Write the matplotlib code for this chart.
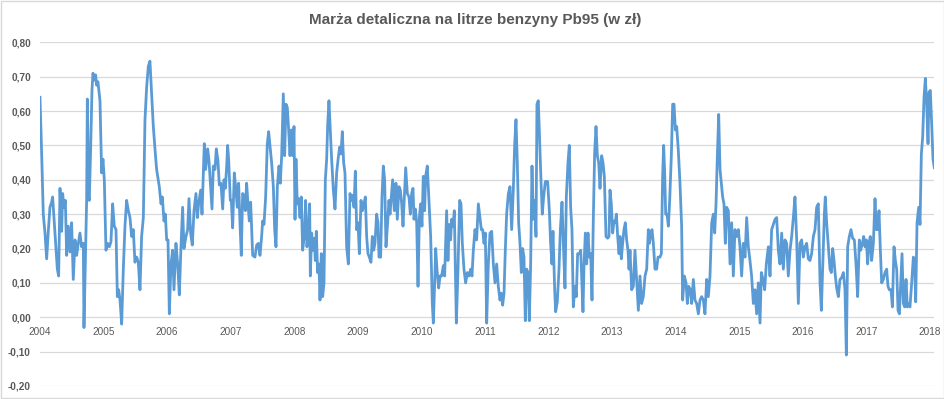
import numpy as np
import matplotlib.pyplot as plt
from matplotlib.patches import Rectangle

plt.rcParams['font.family'] = ['Liberation Sans', 'DejaVu Sans']

# tygodniowe odczyty: lata od poczatku 2004 i marza w zl/l
rok_startu = 2004
lata = [
    0.000, 0.026, 0.052, 0.079, 0.105, 0.131, 0.157, 0.184, 0.199, 0.220,
    0.252, 0.273, 0.294, 0.315, 0.341, 0.357, 0.378, 0.399, 0.420, 0.446,
    0.472, 0.498, 0.524, 0.551, 0.577, 0.603, 0.629, 0.655, 0.682, 0.692,
    0.713, 0.734, 0.745, 0.766, 0.776, 0.797, 0.818, 0.834, 0.855, 0.876,
    0.891, 0.912, 0.944, 0.970, 0.991, 1.012, 1.038, 1.064, 1.091, 1.117,
    1.143, 1.169, 1.196, 1.217, 1.238, 1.259, 1.285, 1.311, 1.337, 1.363,
    1.390, 1.416, 1.442, 1.468, 1.494, 1.521, 1.547, 1.573, 1.599, 1.626,
    1.652, 1.678, 1.704, 1.730,
    1.783, 1.809, 1.835, 1.877, 1.904, 1.925, 1.951, 1.972, 1.993, 2.014,
    2.035, 2.061, 2.087, 2.108, 2.139, 2.166, 2.192, 2.218, 2.244, 2.265,
    2.297, 2.323, 2.344, 2.370, 2.396, 2.423, 2.454, 2.475, 2.496, 2.528,
    2.549, 2.569, 2.585, 2.606, 2.638, 2.659, 2.685, 2.706, 2.727, 2.753,
    2.774, 2.800, 2.821, 2.847, 2.874, 2.895, 2.916, 2.937, 2.952, 2.968,
    2.994, 3.010, 3.031, 3.057, 3.078, 3.104, 3.125, 3.146, 3.167, 3.188,
    3.209, 3.230, 3.251, 3.272, 3.293, 3.314, 3.346, 3.382, 3.409, 3.435,
    3.461, 3.487, 3.503, 3.524, 3.550, 3.576, 3.597,
    3.644, 3.671, 3.692, 3.713, 3.734, 3.760, 3.781, 3.802, 3.828, 3.849,
    3.870, 3.891, 3.912, 3.933, 3.954, 3.975, 3.996, 4.012, 4.027, 4.048,
    4.069, 4.090, 4.111, 4.132, 4.158, 4.179, 4.200, 4.227, 4.242, 4.253,
    4.274, 4.295, 4.316, 4.331, 4.347, 4.368, 4.389, 4.405, 4.426, 4.447,
    4.468, 4.489, 4.510, 4.525, 4.546, 4.567, 4.588, 4.615, 4.641, 4.667,
    4.693, 4.714, 4.735, 4.756, 4.777, 4.798, 4.824, 4.851, 4.877, 4.898,
    4.919, 4.940, 4.961, 4.982, 5.003, 5.024, 5.050, 5.071, 5.097, 5.118,
    5.139, 5.160, 5.181, 5.207, 5.228, 5.249, 5.270, 5.296, 5.317, 5.333,
    5.359, 5.380, 5.401, 5.422, 5.443, 5.469, 5.490,
    5.506, 5.548, 5.574, 5.600, 5.621, 5.648, 5.669, 5.690, 5.711, 5.732,
    5.753, 5.779, 5.805, 5.826, 5.847, 5.868, 5.884, 5.905, 5.926, 5.947,
    5.968, 5.988, 6.009, 6.030, 6.051, 6.067, 6.093, 6.114, 6.146, 6.172,
    6.188, 6.209, 6.225, 6.245, 6.272, 6.293, 6.319, 6.345, 6.366, 6.397,
    6.418, 6.439, 6.460, 6.476, 6.497, 6.518, 6.534, 6.550, 6.576, 6.602,
    6.623, 6.644, 6.670, 6.696, 6.723, 6.749, 6.775, 6.796, 6.817, 6.843,
    6.869, 6.896, 6.922, 6.943, 6.964, 6.985, 7.006, 7.027, 7.053, 7.079,
    7.106, 7.132, 7.158, 7.184, 7.210, 7.236, 7.257, 7.278, 7.300, 7.320,
    7.341, 7.368,
    7.394, 7.420, 7.446, 7.467, 7.488, 7.509, 7.530, 7.551, 7.572, 7.593,
    7.614, 7.635, 7.656, 7.677, 7.698, 7.719, 7.740, 7.761, 7.782, 7.803,
    7.818, 7.839, 7.860, 7.881, 7.902, 7.923, 7.950, 7.986, 8.013, 8.033,
    8.054, 8.070, 8.097, 8.112, 8.138, 8.165, 8.186, 8.212, 8.233, 8.259,
    8.280, 8.306, 8.327, 8.348, 8.369, 8.390, 8.416, 8.437, 8.458, 8.485,
    8.506, 8.526, 8.542, 8.558, 8.579, 8.600, 8.621, 8.642, 8.663, 8.684,
    8.705, 8.726, 8.747, 8.768, 8.789, 8.810, 8.836, 8.857, 8.878, 8.904,
    8.930, 8.951, 8.967, 8.988, 9.009, 9.030, 9.051, 9.067, 9.088, 9.109,
    9.124, 9.145, 9.166, 9.187, 9.208, 9.229, 9.250, 9.266,
    9.282, 9.308, 9.334, 9.360, 9.386, 9.413, 9.439, 9.465, 9.491, 9.518,
    9.544, 9.570, 9.586, 9.607, 9.628, 9.649, 9.675, 9.701, 9.722, 9.754,
    9.775, 9.795, 9.811, 9.827, 9.843, 9.864, 9.885, 9.906, 9.932, 9.953,
    9.974, 9.995, 10.016, 10.042, 10.068, 10.094, 10.110, 10.136, 10.163, 10.184,
    10.205, 10.231, 10.252, 10.278, 10.304, 10.330, 10.357, 10.383, 10.409, 10.435,
    10.461, 10.488, 10.514, 10.540, 10.567, 10.593, 10.614, 10.635, 10.656, 10.677,
    10.698, 10.719, 10.739, 10.760, 10.781, 10.802, 10.829, 10.855, 10.881, 10.907,
    10.933, 10.960, 10.986, 11.012, 11.038, 11.064, 11.091, 11.117, 11.143, 11.169,
    11.195, 11.222, 11.248, 11.274, 11.300, 11.327,
    11.348, 11.374, 11.400, 11.426, 11.458, 11.484, 11.510, 11.536, 11.563, 11.589,
    11.615, 11.641, 11.668, 11.694, 11.720, 11.746, 11.772, 11.799, 11.825, 11.851,
    11.877, 11.904, 11.930, 11.956, 11.982, 12.008, 12.035, 12.061, 12.087, 12.113,
    12.139, 12.166, 12.192, 12.218, 12.244, 12.271, 12.292, 12.318, 12.339, 12.354,
    12.375, 12.402, 12.428, 12.449, 12.470, 12.491, 12.512, 12.533, 12.559, 12.585,
    12.611, 12.638, 12.664, 12.685, 12.706, 12.732, 12.758, 12.784, 12.811, 12.837,
    12.863, 12.889, 12.910, 12.937, 12.958, 12.979, 13.000, 13.020, 13.041, 13.062,
    13.083, 13.110, 13.136, 13.157, 13.178, 13.199, 13.220, 13.241, 13.267, 13.293,
    13.319, 13.340, 13.361, 13.388, 13.409, 13.435, 13.456, 13.477, 13.498, 13.519,
    13.540, 13.561, 13.582, 13.603, 13.624, 13.644, 13.665, 13.686, 13.713, 13.739,
    13.760, 13.776, 13.797, 13.823, 13.844, 13.865, 13.886, 13.907, 13.928, 13.949,
    13.970, 13.985, 14.006, 14.027, 14.048, 14.069,
]
marza = [
    0.64, 0.48, 0.30, 0.245, 0.17, 0.25, 0.32, 0.335, 0.35, 0.29,
    0.195, 0.14, 0.12, 0.375, 0.25, 0.36, 0.32, 0.34, 0.18, 0.265,
    0.19, 0.275, 0.11, 0.225, 0.18, 0.215, 0.245, 0.205, 0.215, -0.03,
    0.16, 0.34, 0.635, 0.35, 0.34, 0.49, 0.66, 0.71, 0.69, 0.705,
    0.675, 0.685, 0.63, 0.42, 0.46, 0.40, 0.195, 0.215, 0.205, 0.22,
    0.33, 0.265, 0.255, 0.06, 0.08, 0.05, -0.02, 0.14, 0.265, 0.34,
    0.31, 0.29, 0.235, 0.255, 0.16, 0.175, 0.16, 0.08, 0.235, 0.29,
    0.575, 0.67, 0.73, 0.745,
    0.555, 0.49, 0.43, 0.38, 0.33, 0.35, 0.28, 0.30, 0.225, 0.225,
    0.01, 0.155, 0.195, 0.08, 0.215, 0.155, 0.065, 0.205, 0.32, 0.20,
    0.235, 0.255, 0.345, 0.245, 0.21, 0.31, 0.36, 0.29, 0.33, 0.37,
    0.30, 0.41, 0.505, 0.43, 0.49, 0.455, 0.38, 0.315, 0.44, 0.43,
    0.49, 0.455, 0.385, 0.39, 0.315, 0.40, 0.375, 0.44, 0.50, 0.46,
    0.34, 0.34, 0.26, 0.42, 0.38, 0.32, 0.39, 0.275, 0.18, 0.36,
    0.355, 0.31, 0.39, 0.33, 0.28, 0.335, 0.18, 0.175, 0.21, 0.215,
    0.18, 0.235, 0.28, 0.27, 0.35, 0.505, 0.54,
    0.45, 0.38, 0.255, 0.205, 0.38, 0.44, 0.39, 0.47, 0.65, 0.47,
    0.62, 0.61, 0.545, 0.47, 0.545, 0.47, 0.555, 0.285, 0.46, 0.33,
    0.345, 0.29, 0.35, 0.195, 0.235, 0.34, 0.205, 0.265, 0.33, 0.12,
    0.245, 0.195, 0.23, 0.165, 0.25, 0.13, 0.155, 0.05, 0.185, 0.06,
    0.10, 0.40, 0.46, 0.555, 0.63, 0.545, 0.46, 0.37, 0.315, 0.42,
    0.465, 0.495, 0.475, 0.54, 0.45, 0.42, 0.205, 0.155, 0.36, 0.34,
    0.355, 0.32, 0.425, 0.255, 0.275, 0.185, 0.34, 0.31, 0.33, 0.35,
    0.235, 0.185, 0.175, 0.16, 0.235, 0.195, 0.215, 0.30, 0.275, 0.175,
    0.175, 0.35, 0.44, 0.40, 0.205, 0.275, 0.34,
    0.30, 0.40, 0.31, 0.39, 0.285, 0.38, 0.37, 0.33, 0.265, 0.35,
    0.435, 0.36, 0.35, 0.30, 0.36, 0.375, 0.285, 0.315, 0.275, 0.09,
    0.29, 0.33, 0.265, 0.41, 0.31, 0.41, 0.44, 0.36, 0.235, 0.04,
    -0.017, 0.10, 0.20, 0.14, 0.085, 0.12, 0.12, 0.15, 0.12, 0.31,
    0.165, 0.27, 0.225, 0.285, 0.265, 0.31, 0.14, -0.017, 0.14, 0.34,
    0.33, 0.215, 0.14, 0.10, 0.13, 0.12, 0.14, 0.12, 0.195, 0.255,
    0.225, 0.33, 0.29, 0.255, 0.255, 0.215, 0.245, -0.017, 0.155, 0.245,
    0.25, 0.155, 0.10, 0.155, 0.09, 0.05, 0.07, 0.035, 0.07, 0.195,
    0.30, 0.36,
    0.38, 0.255, 0.37, 0.50, 0.575, 0.45, 0.275, 0.215, 0.13, 0.20,
    0.175, -0.01, 0.14, 0.13, -0.01, 0.155, 0.44, 0.285, 0.34, 0.235,
    0.62, 0.63, 0.515, 0.40, 0.30, 0.35, 0.395, 0.395, 0.31, 0.215,
    0.155, 0.25, 0.08, 0.016, 0.045, 0.14, 0.255, 0.335, 0.215, 0.085,
    0.35, 0.45, 0.50, 0.32, 0.255, 0.03, 0.09, 0.06, 0.185, 0.185,
    0.195, 0.10, 0.016, 0.15, 0.245, 0.155, 0.245, 0.175, 0.185, 0.05,
    0.29, 0.48, 0.555, 0.47, 0.45, 0.375, 0.47, 0.45, 0.41, 0.235,
    0.23, 0.235, 0.37, 0.33, 0.245, 0.28, 0.275, 0.30, 0.235, 0.185,
    0.235, 0.17, 0.215, 0.255, 0.275, 0.225, 0.195, 0.14,
    0.195, 0.08, 0.09, 0.195, 0.11, 0.02, 0.12, 0.04, 0.06, 0.12,
    0.14, 0.255, 0.215, 0.24, 0.255, 0.215, 0.14, 0.14, 0.175, 0.175,
    0.185, 0.41, 0.50, 0.42, 0.30, 0.30, 0.265, 0.34, 0.47, 0.62,
    0.62, 0.545, 0.555, 0.485, 0.39, 0.265, 0.05, 0.12, 0.10, 0.04,
    0.09, 0.08, 0.04, 0.11, 0.05, 0.04, 0.01, 0.05, 0.06, 0.05,
    0.01, 0.11, 0.06, 0.12, 0.275, 0.30, 0.245, 0.33, 0.47, 0.59,
    0.43, 0.39, 0.35, 0.33, 0.215, 0.32, 0.31, 0.155, 0.275, 0.12,
    0.255, 0.235, 0.255, 0.205, 0.12, 0.215, 0.175, 0.29, 0.205, 0.165,
    0.12, 0.04, 0.08, 0.01, 0.10, -0.017,
    0.13, 0.11, 0.08, 0.155, 0.205, 0.12, 0.255, 0.27, 0.285, 0.29,
    0.195, 0.155, 0.245, 0.14, 0.225, 0.215, 0.12, 0.195, 0.235, 0.29,
    0.35, 0.225, 0.04, 0.215, 0.225, 0.175, 0.205, 0.215, 0.17, 0.165,
    0.185, 0.235, 0.255, 0.32, 0.33, 0.10, 0.02, 0.175, 0.30, 0.35,
    0.275, 0.205, 0.14, 0.13, 0.20, 0.165, 0.12, 0.085, 0.06, 0.11,
    0.115, 0.13, 0.08, -0.11, 0.205, 0.235, 0.255, 0.23, 0.225, 0.155,
    0.06, 0.225, 0.195, 0.215, 0.235, 0.205, 0.225, 0.155, 0.215, 0.235,
    0.165, 0.215, 0.345, 0.255, 0.255, 0.31, 0.195, 0.10, 0.11, 0.13,
    0.14, 0.09, 0.08, 0.08, 0.03, 0.205, 0.165, 0.14, 0.02, 0.01,
    0.10, 0.185, 0.04, 0.03, 0.11, 0.03, 0.04, 0.03, 0.10, 0.175,
    0.155, 0.045, 0.275, 0.32, 0.27, 0.475, 0.525, 0.64, 0.695, 0.62,
    0.505, 0.655, 0.66, 0.565, 0.46, 0.435,
]
lata_osi = list(range(2004, 2019))
y_ticks = [-0.2, -0.1, 0.0, 0.1, 0.2, 0.3, 0.4, 0.5, 0.6, 0.7, 0.8]

assert len(lata) == len(marza)
x = rok_startu + np.array(lata)

fig = plt.figure(figsize=(9.45, 3.99), dpi=100)
ax = fig.add_axes([0.0423, 0.0326, 0.9464, 0.8614])

ax.plot(x, marza, color='#5B9BD5', lw=2.0, solid_joinstyle='round')

ax.set_xlim(x[0], x[-1])
ax.set_ylim(-0.2, 0.8)
ax.set_xticks(lata_osi)
ax.set_xticklabels([str(r) for r in lata_osi])
ax.set_yticks(y_ticks)
ax.set_yticklabels([('%.2f' % v).replace('.', ',') for v in y_ticks])
for lab in ax.get_xticklabels() + ax.get_yticklabels():
    lab.set_fontweight('bold')

ax.grid(axis='y', color='#D9D9D9', lw=0.9)
ax.set_axisbelow(True)
for s in ax.spines.values():
    s.set_visible(False)
ax.spines['bottom'].set_position(('data', 0))
ax.tick_params(axis='both', length=0, labelsize=7.2, labelcolor='#595959')
ax.tick_params(axis='x', pad=7)
ax.tick_params(axis='y', pad=6.5)

fig.text(0.503, 1 - 20 / 399, 'Marża detaliczna na litrze benzyny Pb95 (w zł)',
         ha='center', va='center', fontsize=11, fontweight='bold', color='#595959')

fig.patches.append(Rectangle((0.0006, 0.0013), 0.9988, 0.9974, transform=fig.transFigure,
                             fill=False, ec='#D9D9D9', lw=1))

fig.savefig('out.png', dpi=100)
